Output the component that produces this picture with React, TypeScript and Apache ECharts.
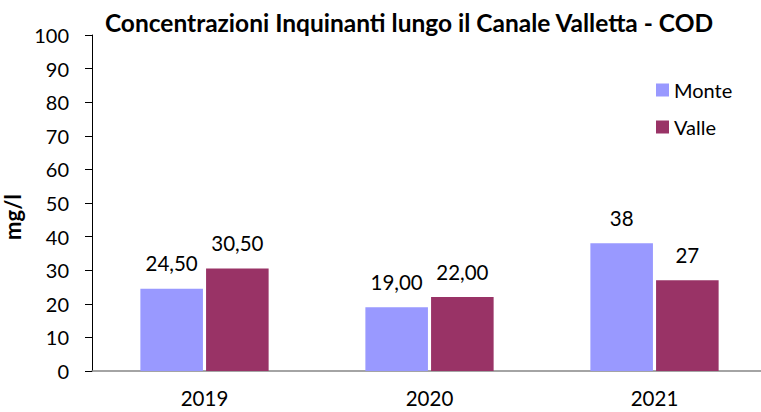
import React, { useEffect, useRef } from "react";
import * as echarts from "echarts";

const categories = ["2019", "2020", "2021"];
const monte = [24.5, 19.0, 38];
const valle = [30.5, 22.0, 27];
const monteLabels = ["24,50", "19,00", "38"];
const valleLabels = ["30,50", "22,00", "27"];

const FONT = "Lato, 'Open Sans', sans-serif";

export default function App() {
  const ref = useRef<HTMLDivElement>(null);
  useEffect(() => {
    const chart = echarts.init(ref.current!, null, { renderer: "svg" });
    const labelCfg = (labels: string[]) => ({
      show: true,
      position: "top",
      distance: 15,
      fontFamily: FONT,
      fontSize: 20.5,
      color: "#000",
      formatter: (p: any) => labels[p.dataIndex],
    });
    chart.setOption({
      animation: false,
      backgroundColor: "#ffffff",
      textStyle: { fontFamily: FONT },
      title: {
        text: "Concentrazioni Inquinanti lungo il Canale Valletta - COD",
        left: 404,
        textAlign: "center",
        top: 5,
        textStyle: { fontFamily: FONT, fontWeight: "bold", fontSize: 24.5, color: "#000" },
      },
      legend: {
        orient: "vertical",
        left: 651,
        top: 75,
        itemWidth: 13,
        itemHeight: 13,
        itemGap: 17,
        icon: "rect",
        textStyle: { fontFamily: FONT, fontSize: 20, color: "#000" },
        data: ["Monte", "Valle"],
      },
      grid: {
        left: 92,
        right: -6,
        top: 35,
        bottom: 41,
        containLabel: false,
        outerBoundsMode: "none",
      },
      xAxis: {
        type: "category",
        data: categories,
        axisLine: { lineStyle: { color: "#868686", width: 1.5 } },
        axisTick: { show: false },
        axisLabel: { fontFamily: FONT, fontSize: 20.5, color: "#000", margin: 16 },
      },
      yAxis: {
        type: "value",
        min: 0,
        max: 100,
        interval: 10,
        name: "mg/l",
        nameLocation: "middle",
        nameGap: 63,
        nameRotate: 90,
        nameTextStyle: {
          fontFamily: FONT,
          fontWeight: "bold",
          fontSize: 22,
          color: "#000",
          padding: [0, 28, 0, 0],
        },
        axisLine: { show: true, lineStyle: { color: "#000", width: 1 } },
        axisTick: { show: true, inside: false, length: 7, lineStyle: { color: "#000" } },
        splitLine: { show: false },
        axisLabel: { fontFamily: FONT, fontSize: 20, color: "#000", margin: 23 },
      },
      series: [
        {
          name: "Monte",
          type: "bar",
          data: monte,
          itemStyle: { color: "#9999FF" },
          barGap: "5%",
          barCategoryGap: "43%",
          label: labelCfg(monteLabels),
        },
        {
          name: "Valle",
          type: "bar",
          data: valle,
          itemStyle: { color: "#993366" },
          barGap: "5%",
          barCategoryGap: "43%",
          label: labelCfg(valleLabels),
        },
      ],
    });
    return () => chart.dispose();
  }, []);
  return <div ref={ref} style={{ width: 761, height: 412, position: "fixed", left: 0, top: 0 }} />;
}
